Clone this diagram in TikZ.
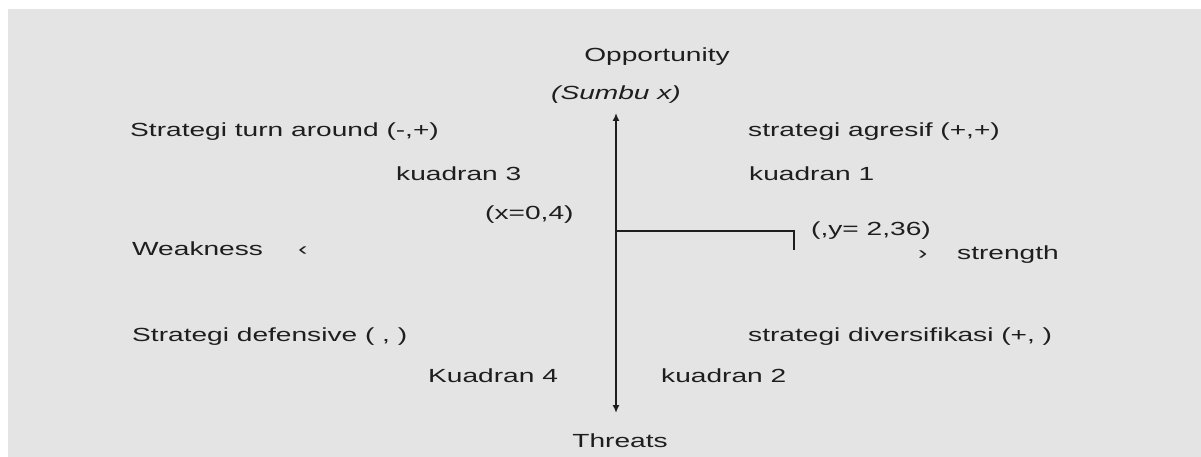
\documentclass[tikz,border=0pt]{standalone}
\usepackage{fontspec}
\setmainfont{Liberation Sans}[FakeStretch=1.48]
\usetikzlibrary{arrows.meta}
\definecolor{panel}{HTML}{E4E4E4}
\definecolor{ink}{HTML}{1E1E1E}
\begin{document}
\begin{tikzpicture}[x=1pt,y=1pt,
  lbl/.style={anchor=base west,inner sep=0pt,text=ink,font=\fontsize{19}{22}\selectfont},
  clbl/.style={anchor=base,inner sep=0pt,text=ink,font=\fontsize{19}{22}\selectfont},
  axis/.style={draw=ink,line width=1.7pt},
  tip/.style={-{Latex[length=8pt,width=7pt]}}]
% page and grey panel
\useasboundingbox (0,0) rectangle (1201,-457);
\fill[white] (0,0) rectangle (1201,-457);
\fill[panel] (8,-9) rectangle (1201,-457);

% axis labels
\node[clbl] (opp) at (657,-62) {Opportunity};
\node[clbl] (sumbu) at (616,-100) {\itshape (Sumbu x)};
\node[clbl] (thr) at (620,-447) {Threats};

% axis points
\coordinate (centre) at (616,-231);
\coordinate (top) at (616,-113);
\coordinate (bot) at (616,-413);
\coordinate (corner) at (794,-231);
\coordinate (tick) at (794,-250);

% vertical axis with arrows at both ends
\draw[axis,tip] (centre) -- (top);
\draw[axis,tip] (centre) -- (bot);
% horizontal marker
\draw[axis] (centre) -- (corner) -- (tick);

% strategy labels
\node[lbl] (turn) at (130,-137) {Strategi turn around (-,+)};
\node[lbl] (agr) at (748,-137) {strategi agresif (+,+)};
\node[lbl] (k3) at (396,-181) {kuadran 3};
\node[lbl] (k1) at (749,-181) {kuadran 1};
\node[lbl] (xval) at (485,-219) {(x=0,4)};
\node[lbl] (yval) at (811,-235) {(,y= 2,36)};
\node[lbl] (weak) at (132,-255) {Weakness};
\node[lbl] (wmark) at (298,-255) {‹};
\node[lbl] (smark) at (918,-259) {›};
\node[lbl] (str) at (957,-259) {strength};
\node[lbl] (def) at (132,-341) {Strategi defensive ( , )};
\node[lbl] (div) at (748,-341) {strategi diversifikasi (+, )};
\node[lbl] (k4) at (428,-382) {Kuadran 4};
\node[lbl] (k2) at (661,-382) {kuadran 2};
\end{tikzpicture}
\end{document}
